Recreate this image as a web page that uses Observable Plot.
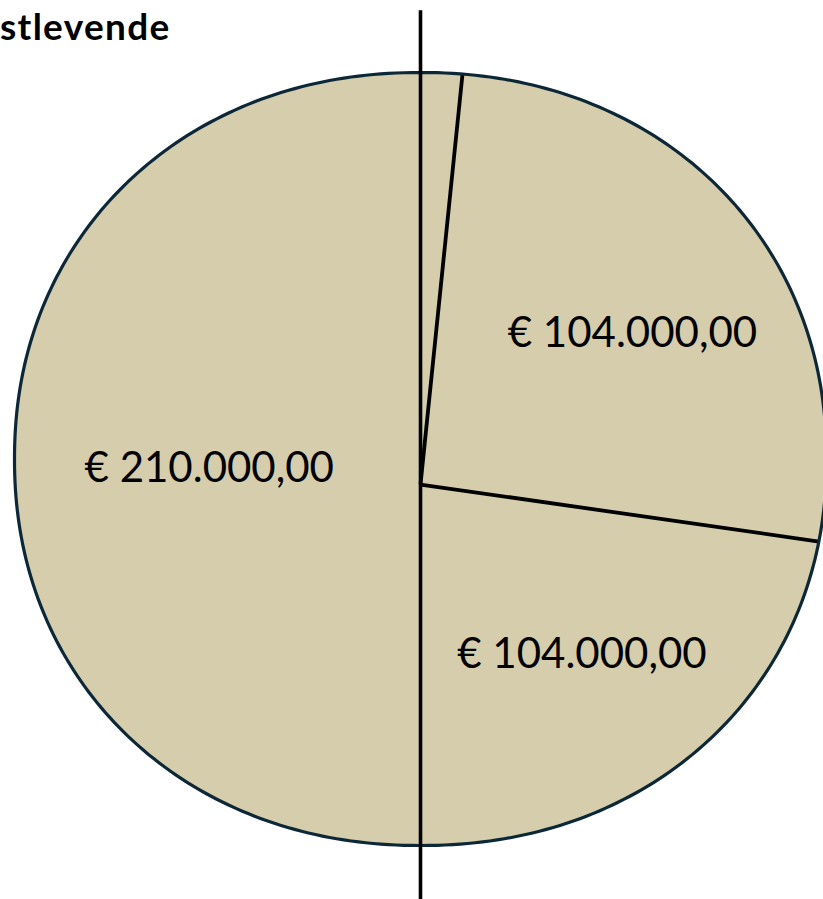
<!DOCTYPE html>
<html>
<head>
<meta charset="utf-8">
<script src="https://cdn.jsdelivr.net/npm/d3@7"></script>
<script src="https://cdn.jsdelivr.net/npm/@observablehq/plot@0.6"></script>
<style>
  html, body { margin: 0; padding: 0; background: #ffffff; overflow: hidden; }
  #wrap { position: relative; width: 823px; height: 899px; }
  #title { position: absolute; left: 0; width: 167px; text-align: right; white-space: nowrap;
           font-family: Lato, "Open Sans", sans-serif; font-weight: 700; font-size: 37px; line-height: 37px;
           letter-spacing: 1.3px; top: 7px; color: #000; }
  #chart { position: absolute; left: 0; top: 0; }
</style>
</head>
<body>
<div id="wrap">
  <div id="chart"></div>
  <div id="title"></div>
</div>
<script>
// ---- data ----
const titleText = "stlevende";
const slices = ["sliver", "upper right", "lower right", "left half"];
const labels = ["", "€ 104.000,00", "€ 104.000,00", "€ 210.000,00"];
// angular extent of each wedge as drawn, degrees clockwise from the top
const drawnAngles = [5.3, 96.1, 78.6, 180];

// ---- geometry helpers ----
const N = 2.1;                 // outline is a slightly squarish ellipse
const rad = d => d * Math.PI / 180;
const edge = t => {
  const s = Math.sin(rad(t)), c = Math.cos(rad(t));
  return [Math.sign(s) * Math.pow(Math.abs(s), 2 / N), Math.sign(c) * Math.pow(Math.abs(c), 2 / N)];
};
const pieCenter = [0, -0.066];

const bounds = [0];
drawnAngles.forEach(a => bounds.push(bounds[bounds.length - 1] + a));

// wedges
const wedgePts = [];
slices.forEach((name, i) => {
  const t0 = bounds[i], t1 = bounds[i + 1];
  wedgePts.push({slice: name, x: pieCenter[0], y: pieCenter[1]});
  const steps = Math.max(2, Math.ceil(t1 - t0));
  for (let k = 0; k <= steps; k++) {
    const [x, y] = edge(t0 + (t1 - t0) * k / steps);
    wedgePts.push({slice: name, x, y});
  }
  wedgePts.push({slice: name, x: pieCenter[0], y: pieCenter[1]});
});

// outline
const outline = d3.range(0, 361, 1).map(t => { const [x, y] = edge(t); return {x, y}; });

// boundary lines (except the vertical 0/180 boundary, drawn as a long rule)
const boundaryLines = bounds.slice(1, 3).map(t => {
  const [x, y] = edge(t);
  return {x1: pieCenter[0], y1: pieCenter[1], x2: x, y2: y};
});

// label placement (layout only): angle and distance from the pie center
const labelPlace = {"upper right": [53.2, 0.652], "lower right": [137.9, 0.593], "left half": [274.6, 0.522]};
const labelData = slices.map((s, i) => ({slice: s, text: labels[i]})).filter(d => d.text).map(d => {
  const [a, r] = labelPlace[d.slice];
  return {...d, x: pieCenter[0] + r * Math.sin(rad(a)), y: pieCenter[1] + r * Math.cos(rad(a))};
});

const chart = Plot.plot({
  width: 823,
  height: 899,
  margin: 0,
  x: {domain: [-1, 1], range: [14, 826], axis: null},
  y: {domain: [-1, 1], range: [845, 72], axis: null},
  style: {background: "transparent", fontFamily: "Lato, 'Open Sans', sans-serif"},
  marks: [
    Plot.line(wedgePts, {x: "x", y: "y", z: "slice", fill: "#d5cdac", stroke: "none", curve: "linear"}),
    Plot.link(boundaryLines, {x1: "x1", y1: "y1", x2: "x2", y2: "y2", stroke: "#000", strokeWidth: 3.8}),
    Plot.line(outline, {x: "x", y: "y", stroke: "#0c2738", strokeWidth: 3.2, fill: "none"}),
    Plot.ruleX([0], {y1: -1.14, y2: 1.16, stroke: "#000", strokeWidth: 3.6}),
    Plot.text(labelData, {x: "x", y: "y", text: "text", fontSize: 42, fontFamily: "Lato", fill: "#000", textAnchor: "middle"})
  ]
});
document.getElementById("chart").appendChild(chart);
document.getElementById("title").textContent = titleText;
</script>
</body>
</html>
